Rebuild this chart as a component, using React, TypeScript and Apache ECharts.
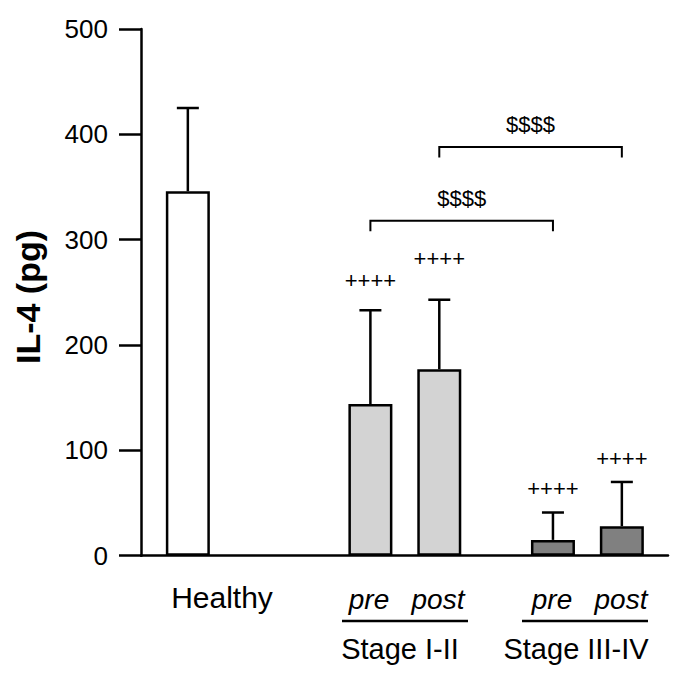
import React, { useEffect, useRef } from "react";
import * as echarts from "echarts";

// ---- data ----
const groups = ["Healthy", "Stage I-II pre", "Stage I-II post", "Stage III-IV pre", "Stage III-IV post"];
const means = [346, 144, 177, 15, 28];
const upperError = [425, 233, 243, 41, 70];
const barColors = ["#ffffff", "#d3d3d3", "#d3d3d3", "#808080", "#808080"];
const plusMarkY = [null, 261, 282, 64, 92];
const plusMarkText = "++++";
const bracketFrom = [1, 2];
const bracketTo = [3, 4];
const bracketY = [318, 388];
const bracketLabelY = [339, 409];
const bracketLabels = ["$$$$", "$$$$"];
const yTicks = { min: 0, max: 500, interval: 100 };

// ---- layout (not data) ----
const xPos = [0.68, 3.33, 4.33, 5.98, 6.98];
const xMax = 7.65;
const FONT = "'Liberation Sans', Arial, Helvetica, sans-serif";

export default function App() {
  const ref = useRef<HTMLDivElement>(null);
  useEffect(() => {
    if (!ref.current) return;
    const chart = echarts.init(ref.current, undefined, { renderer: "svg" });

    const barData = means.map((m, i) => ({
      value: [xPos[i], m],
      name: groups[i],
      itemStyle: { color: barColors[i], borderColor: "#000", borderWidth: 2.5 },
    }));
    const errData = means.map((m, i) => [xPos[i], m, upperError[i]]);
    const plusData = plusMarkY
      .map((y, i) => (y == null ? null : [xPos[i], y]))
      .filter((d) => d != null);
    const bracketData = bracketFrom.map((f, i) => [
      xPos[f],
      xPos[bracketTo[i]],
      bracketY[i],
      bracketLabelY[i],
      i,
    ]);

    const textStyleBase = { fill: "#000", fontFamily: FONT };

    chart.setOption({
      animation: false,
      backgroundColor: "#ffffff",
      grid: { left: 141, right: 17, top: 29, bottom: 126.3, containLabel: false },
      xAxis: {
        type: "value",
        min: 0,
        max: xMax,
        axisLine: { show: true, lineStyle: { color: "#000", width: 2.5 } },
        axisTick: { show: false },
        axisLabel: { show: false },
        splitLine: { show: false },
      },
      yAxis: {
        type: "value",
        min: yTicks.min,
        max: yTicks.max,
        interval: yTicks.interval,
        axisLine: { show: true, lineStyle: { color: "#000", width: 2.5 } },
        axisTick: { show: true, length: 22, lineStyle: { color: "#000", width: 2.5 } },
        axisLabel: { color: "#000", fontSize: 26, fontFamily: FONT, margin: 33 },
        splitLine: { show: false },
      },
      series: [
        {
          type: "bar",
          data: barData,
          barWidth: 44,
          z: 2,
        },
        {
          type: "custom",
          data: errData,
          z: 3,
          renderItem: (params: any, api: any) => {
            const x = api.value(0);
            const p0 = api.coord([x, api.value(1)]);
            const p1 = api.coord([x, api.value(2)]);
            const st = { stroke: "#000", lineWidth: 2.5 };
            return {
              type: "group",
              children: [
                { type: "line", shape: { x1: p0[0], y1: p0[1], x2: p1[0], y2: p1[1] }, style: st },
                { type: "line", shape: { x1: p1[0] - 11, y1: p1[1], x2: p1[0] + 11, y2: p1[1] }, style: st },
              ],
            };
          },
        },
        {
          type: "custom",
          data: plusData,
          z: 3,
          renderItem: (params: any, api: any) => {
            const p = api.coord([api.value(0), api.value(1)]);
            return {
              type: "text",
              x: p[0],
              y: p[1],
              style: {
                ...textStyleBase,
                text: plusMarkText,
                fontSize: 22,
                align: "center",
                verticalAlign: "middle",
              },
            };
          },
        },
        {
          type: "custom",
          data: bracketData,
          z: 3,
          renderItem: (params: any, api: any) => {
            const a = api.coord([api.value(0), api.value(2)]);
            const b = api.coord([api.value(1), api.value(2)]);
            const t = api.coord([(api.value(0) + api.value(1)) / 2, api.value(3)]);
            const idx = api.value(4);
            return {
              type: "group",
              children: [
                {
                  type: "polyline",
                  shape: {
                    points: [
                      [a[0], a[1] + 10.5],
                      [a[0], a[1]],
                      [b[0], b[1]],
                      [b[0], b[1] + 10.5],
                    ],
                  },
                  style: { stroke: "#000", lineWidth: 2, fill: "none" },
                },
                {
                  type: "text",
                  x: t[0],
                  y: t[1],
                  style: {
                    ...textStyleBase,
                    text: bracketLabels[idx],
                    fontSize: 22,
                    align: "center",
                    verticalAlign: "middle",
                  },
                },
              ],
            };
          },
        },
      ],
      graphic: [
        {
          type: "text",
          x: 28,
          y: 297,
          rotation: Math.PI / 2,
          style: {
            ...textStyleBase,
            text: "IL-4 (pg)",
            fontSize: 34,
            fontWeight: "bold",
            align: "center",
            verticalAlign: "middle",
          },
        },
        {
          type: "text",
          x: 222,
          y: 597,
          style: { ...textStyleBase, text: "Healthy", fontSize: 30, align: "center", verticalAlign: "middle" },
        },
        {
          type: "text",
          x: 369,
          y: 599,
          style: { ...textStyleBase, text: "pre", fontSize: 28, fontStyle: "italic", align: "center", verticalAlign: "middle" },
        },
        {
          type: "text",
          x: 438,
          y: 599,
          style: { ...textStyleBase, text: "post", fontSize: 28, fontStyle: "italic", align: "center", verticalAlign: "middle" },
        },
        {
          type: "text",
          x: 552,
          y: 599,
          style: { ...textStyleBase, text: "pre", fontSize: 28, fontStyle: "italic", align: "center", verticalAlign: "middle" },
        },
        {
          type: "text",
          x: 621,
          y: 599,
          style: { ...textStyleBase, text: "post", fontSize: 28, fontStyle: "italic", align: "center", verticalAlign: "middle" },
        },
        {
          type: "line",
          shape: { x1: 342, y1: 621, x2: 468, y2: 621 },
          style: { stroke: "#000", lineWidth: 2.5 },
        },
        {
          type: "line",
          shape: { x1: 522, y1: 621, x2: 648, y2: 621 },
          style: { stroke: "#000", lineWidth: 2.5 },
        },
        {
          type: "text",
          x: 400,
          y: 649,
          style: { ...textStyleBase, text: "Stage I-II", fontSize: 29, align: "center", verticalAlign: "middle" },
        },
        {
          type: "text",
          x: 576,
          y: 649,
          style: { ...textStyleBase, text: "Stage III-IV", fontSize: 29, align: "center", verticalAlign: "middle" },
        },
      ],
    });
    return () => chart.dispose();
  }, []);
  return (
    <div
      ref={ref}
      style={{ position: "fixed", left: 0, top: 0, width: 685, height: 682, background: "#fff" }}
    />
  );
}
